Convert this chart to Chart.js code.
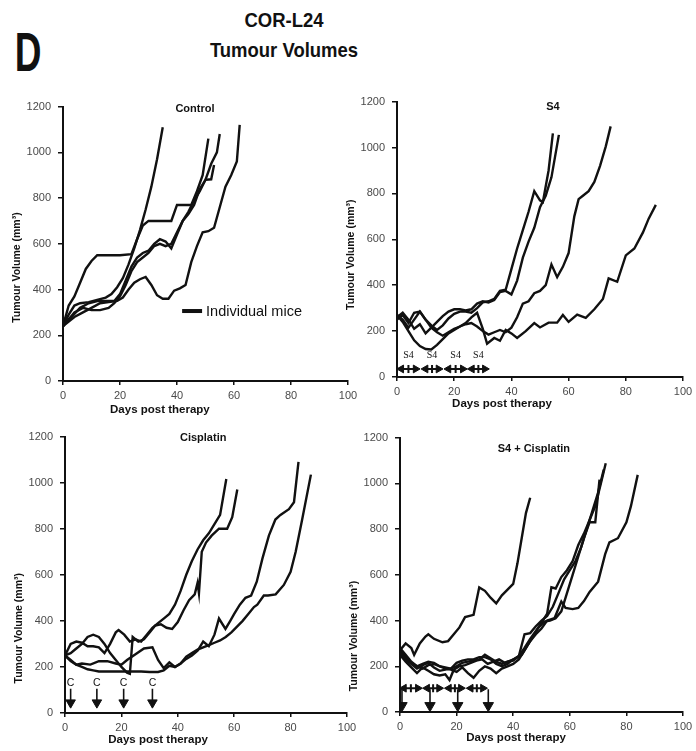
<!DOCTYPE html>
<html><head><meta charset="utf-8">
<script src="https://cdn.jsdelivr.net/npm/chart.js@4.4.1/dist/chart.umd.min.js"></script>
<style>
html,body{margin:0;padding:0;background:#fff;overflow:hidden;width:696px;height:751px;}
canvas{position:absolute;}
.t{position:absolute;font-family:"Liberation Sans",Arial,sans-serif;font-weight:bold;color:#111;white-space:nowrap;transform-origin:50% 50%;}
</style></head><body>
<div class="t" style="left:28px;top:24px;font-size:56px;line-height:56px;transform:translateX(-50%) scaleX(0.66);">D</div>
<div class="t" style="left:284px;top:9px;font-size:21px;line-height:22px;transform:translateX(-50%) scaleX(0.88);">COR-L24</div>
<div class="t" style="left:284px;top:39px;font-size:21px;line-height:22px;transform:translateX(-50%) scaleX(0.88);">Tumour Volumes</div>
<canvas id="c1" width="361" height="324" style="left:3px;top:93px"></canvas>
<canvas id="c2" width="362" height="325" style="left:337px;top:88px"></canvas>
<canvas id="c3" width="358" height="326" style="left:5px;top:423px"></canvas>
<canvas id="c4" width="359" height="324" style="left:340px;top:424px"></canvas>
<script>
// ---- tick labels ----
const xTickValues = [0, 20, 40, 60, 80, 100];
const yTickValues = [0, 200, 400, 600, 800, 1000, 1200];

// ---- Control: [day, volume mm3] ----
const control_m1 = [[0,240],[2,290],[4,330],[6,340],[9,345],[12,355],[15,365],[17,380],[19,410],[21,450],[23,510],[25,580],[27,660],[29,750],[31,850],[33,970],[35,1110]];
const control_m2 = [[0,240],[2,330],[4,370],[6,430],[8,490],[10,525],[12,550],[16,550],[20,550],[24,555],[26,620],[28,680],[30,700],[34,700],[38,700],[40,770],[45,770],[47,830],[49,900],[51,1060]];
const control_m3 = [[0,240],[3,280],[6,320],[9,340],[12,350],[15,350],[18,350],[20,380],[22,440],[24,500],[26,540],[28,560],[30,570],[32,600],[34,620],[36,610],[38,580],[40,640],[42,700],[44,730],[46,770],[48,840],[50,880],[52,950],[54,1000],[55,1080]];
const control_m4 = [[0,240],[2,270],[4,300],[7,320],[10,310],[13,310],[16,320],[18,340],[20,370],[22,420],[24,480],[26,520],[28,540],[30,560],[32,590],[34,600],[36,590],[38,600],[40,650],[42,700],[44,740],[46,790],[48,830],[50,880],[52,882],[53,945]];
const control_m5 = [[0,240],[2,260],[4,280],[7,300],[10,320],[13,340],[16,345],[19,350],[21,365],[23,400],[25,430],[27,445],[29,455],[31,420],[33,375],[35,360],[37,360],[39,395],[41,405],[43,420],[45,520],[47,590],[49,650],[51,655],[53,670],[55,760],[57,850],[59,900],[61,960],[62,1120]];

// ---- S4 ----
const s4_m1 = [[0,270],[2,250],[4,215],[6,250],[8,285],[10,250],[12,225],[14,205],[16,225],[18,255],[20,275],[22,285],[24,285],[26,280],[28,300],[30,325],[32,330],[34,340],[36,375],[38,380],[40,470],[42,560],[44,640],[46,720],[48,810],[50,770],[51,762],[53,900],[54.5,1062]];
const s4_m2 = [[0,260],[2,280],[4,250],[6,210],[8,230],[10,190],[12,215],[14,240],[16,265],[18,285],[20,295],[22,295],[24,290],[26,295],[28,320],[30,330],[32,325],[34,335],[36,370],[38,375],[40,360],[42,420],[44,520],[46,590],[48,650],[50,740],[52,790],[54,870],[56.6,1055]];
const s4_m3 = [[0,270],[2,240],[4,200],[6,160],[8,135],[10,122],[12,120],[14,140],[16,165],[18,190],[20,205],[22,220],[24,230],[26,235],[28,220],[30,200],[32,185],[34,195],[36,205],[38,195],[40,215],[42,260],[44,320],[46,330],[48,365],[50,375],[52,400],[54,490],[56,435],[58,480],[60,540],[62,700],[63.5,775],[65,790],[67,810],[69,850],[71,920],[73,1005],[74.7,1092]];
const s4_m4 = [[0,250],[2,270],[4,235],[6,280],[8,285],[10,250],[12,215],[14,195],[16,180],[18,195],[20,210],[22,220],[24,235],[26,260],[28,280],[30,210],[31.5,145],[34,170],[36,158],[38,205],[40,190],[42,170],[45,200],[48,235],[50,216],[53,237],[56,237],[58,270],[60,240],[63,272],[66,258],[69,295],[72,340],[74,430],[77,415],[80,530],[83,560],[86,630],[88,690],[90.5,750]];

// ---- Cisplatin ----
const cis_m1 = [[0,250],[2,300],[4,310],[6,305],[8,290],[10,290],[12,285],[14,260],[16,300],[18,350],[19,360],[21,340],[23,310],[25,320],[27,310],[29,340],[31,370],[33,390],[35,410],[37,430],[39,470],[41,530],[43,600],[45,660],[47,710],[49,750],[51,780],[53,820],[55,860],[57.2,1016]];
const cis_m2 = [[0,250],[2,260],[4,280],[6,300],[8,330],[10,340],[12,330],[14,300],[16,260],[18,230],[20,200],[22,175],[23,170],[24,330],[26,310],[28,320],[30,350],[32,380],[34,385],[36,370],[38,365],[40,395],[42,445],[44,490],[46,515],[47,565],[47.5,520],[48.5,700],[50,740],[52,770],[54.6,800],[57.5,800],[59.3,850],[61.1,970]];
const cis_m3 = [[0,250],[2,225],[4,210],[6,215],[9,210],[12,225],[15,225],[18,215],[20,210],[22,230],[25,255],[28,280],[31,285],[33,230],[35,195],[37,220],[39,200],[41,215],[43,235],[45,250],[47,270],[49,310],[51,290],[53,340],[54.6,410],[56.9,365],[58.6,400],[60,430],[62,470],[64,500],[66,510],[68,570],[70,670],[72.3,770],[74.6,840],[76.4,860],[79.4,885],[81.2,915],[82.8,1090]];
const cis_m4 = [[0,250],[2,230],[4,210],[6,200],[8,190],[10,185],[12,180],[15,180],[18,180],[21,180],[24,180],[27,180],[30,178],[33,178],[35,185],[37,205],[39,200],[41,215],[43,245],[45,260],[47,275],[49,285],[51,295],[53,305],[55,315],[57,330],[59,350],[61,375],[63,400],[65,430],[67,460],[68.2,470],[70.5,510],[72,510],[74.7,515],[77.6,556],[80,613],[81.8,700],[84.1,840],[87.2,1035]];

// ---- S4 + Cisplatin ----
const comb_m1 = [[0,270],[2,300],[4,280],[5,250],[7,300],[9,330],[10,340],[12,320],[15,305],[17,310],[19,340],[21,370],[23,415],[26,425],[28,545],[30,530],[32,500],[34,475],[36,510],[38,535],[40,560],[41.5,650],[43,760],[44.5,870],[46,937]];
const comb_m2 = [[0,260],[2,230],[4,210],[6,190],[8,205],[10,215],[12,195],[14,180],[16,185],[18,190],[20,200],[22,215],[24,220],[26,225],[28,230],[30,250],[32,235],[34,220],[36,210],[38,220],[40,225],[42,245],[44,280],[46,320],[48,355],[50,390],[52,430],[53.5,545],[55,540],[57,590],[59,620],[61,660],[63,730],[65,780],[67,840],[69,900],[71,1000],[72.7,1088]];
const comb_m3 = [[0,250],[2,220],[4,195],[6,170],[8,195],[10,180],[12,165],[14,160],[16,165],[17.5,140],[19,185],[21,200],[23,205],[25,215],[27,225],[29,230],[31,210],[33,220],[35,230],[37,215],[39,225],[41,235],[43,250],[45,290],[47,330],[49,370],[51,395],[53,400],[55,410],[57,440],[59,520],[61,600],[63,680],[65,760],[67,830],[69,830],[70.5,1016]];
const comb_m4 = [[0,280],[2,250],[4,220],[6,200],[8,190],[10,205],[12,210],[14,200],[16,195],[18,190],[20,215],[22,225],[24,230],[26,230],[28,240],[30,240],[32,230],[34,210],[36,200],[38,210],[40,230],[42,245],[44,340],[46,345],[48,375],[50,400],[52,420],[54,460],[56,520],[58,580],[60,620],[62,660],[64,720],[66,800],[68,880],[70,960],[72,1060]];
const comb_m5 = [[0,270],[2,240],[4,215],[6,200],[8,210],[10,220],[12,215],[14,200],[16,190],[18,185],[20,175],[22,195],[24,170],[26,150],[28,180],[30,200],[32,190],[34,170],[36,190],[38,200],[40,210],[42,230],[44,270],[46,310],[48,340],[50,365],[52,400],[54.6,410],[57,483],[58.5,455],[61,450],[63,455],[65,485],[67,525],[70,570],[72.5,690],[74,742],[77,760],[80,830],[81.6,900],[84,1037]];

// ---- dosing schedule annotations ----
const s4DoseRanges = [[1.5,6.5],[10,14.5],[18,23],[26.2,30.7]];
const s4DoseLevel = 35;
const s4LabelLevel = 95;
const cisDoseDays = [2, 11.3, 20.8, 31];
const cisArrowTop = 105, cisArrowEnd = 45, cisLabelLevel = 130;
const combS4Ranges = [[1.4,6.3],[9.6,13.8],[17.3,21.5],[25,29.3]];
const combS4Level = 104;
const combCisDays = [0.7, 10.6, 20.4, 31.2];
const combArrowTop = 100, combArrowEnd = 28;

const INK = '#111';
const FONT = '"Liberation Sans", Arial, sans-serif';

function seriesDs(s) {
  return { data: s.map(p => ({x: p[0], y: p[1]})), borderColor: INK, borderWidth: 2.4,
    pointRadius: 0, tension: 0, fill: false };
}
function doubleArrowDs(r, level) {
  const mid = (r[0] + r[1]) / 2;
  return { data: [{x: r[0], y: level}, {x: mid, y: level}, {x: r[1], y: level}],
    borderColor: INK, borderWidth: 2, backgroundColor: INK,
    pointStyle: ['triangle', 'line', 'triangle'], pointRotation: [-90, 90, 90],
    pointRadius: [4.5, 4, 4.5], pointBackgroundColor: INK, pointBorderColor: INK, pointBorderWidth: [1, 2, 1] };
}
function downArrowDs(d, top, end, r) {
  return { data: [{x: d, y: top}, {x: d, y: end}], borderColor: INK, borderWidth: 1.6,
    pointStyle: [false, 'triangle'], pointRotation: [0, 180], pointRadius: [0, r],
    pointBackgroundColor: INK, pointBorderColor: INK, pointBorderWidth: 1 };
}

const overlay = {
  id: 'overlay',
  afterDraw(chart) {
    const o = chart.options.plugins.overlay;
    if (!o) return;
    const {ctx, chartArea, scales: {x, y}} = chart;
    ctx.save();
    (o.texts || []).forEach(t => {
      ctx.font = t.font;
      ctx.fillStyle = t.color || INK;
      ctx.textAlign = t.align || 'center';
      ctx.textBaseline = 'middle';
      const px = t.px !== undefined ? chartArea.left + t.px : x.getPixelForValue(t.x);
      const py = t.py !== undefined ? chartArea.bottom + t.py : y.getPixelForValue(t.y);
      ctx.save(); ctx.translate(px, py); if (t.rot) ctx.rotate(t.rot); ctx.fillText(t.text, 0, 0); ctx.restore();
    });
    if (o.legend) {
      const l = o.legend;
      const x0 = x.getPixelForValue(l.x0), x1 = x.getPixelForValue(l.x1), py = y.getPixelForValue(l.y);
      ctx.fillStyle = INK;
      ctx.fillRect(x0, py - 2, x1 - x0, 4);
      ctx.font = '14.5px ' + FONT;
      ctx.textAlign = 'left'; ctx.textBaseline = 'middle';
      ctx.fillText(l.text, x1 + 4, py + 0.5);
    }
    ctx.restore();
  }
};

function makePanel(id, series, extraDs, cfg) {
  const datasets = series.map(seriesDs).concat(extraDs);
  const texts = [
    {text: cfg.title, x: cfg.titleAt[0], y: cfg.titleAt[1], font: 'bold 11px ' + FONT},
    {text: 'Days post therapy', x: cfg.xTitleDay, py: cfg.xTitleOff, font: 'bold 11.5px ' + FONT},
    {text: 'Tumour Volume (mm\u00B3)', px: -46, y: cfg.yTitleVal, font: 'bold 10.5px ' + FONT, rot: -Math.PI / 2}
  ].concat(cfg.texts || []);
  new Chart(document.getElementById(id), {
    type: 'line',
    data: {datasets},
    options: {
      responsive: false, maintainAspectRatio: false, animation: false,
      layout: {padding: {top: 10, right: 16, left: 0, bottom: 0}},
      plugins: {legend: {display: false}, tooltip: {enabled: false}, title: {display: false},
        overlay: {texts, legend: cfg.legend}},
      scales: {
        x: {type: 'linear', min: 0, max: 100,
          afterBuildTicks: ax => { ax.ticks = xTickValues.map(v => ({value: v})); },
          afterFit: ax => { ax.height = 36; },
          grid: {drawOnChartArea: false, drawTicks: true, tickLength: 4, color: INK, lineWidth: 1.5},
          border: {color: INK, width: 2},
          ticks: {color: '#4a4a4a', font: {family: FONT, size: 11}, padding: 4, maxRotation: 0, autoSkip: false,
            callback: v => String(v)}},
        y: {type: 'linear', min: 0, max: 1200,
          afterBuildTicks: ax => { ax.ticks = yTickValues.map(v => ({value: v})); },
          afterFit: ax => { ax.width = 60; },
          grid: {drawOnChartArea: false, drawTicks: true, tickLength: 5, color: INK, lineWidth: 1.5},
          border: {color: INK, width: 2},
          ticks: {color: '#4a4a4a', font: {family: FONT, size: 11}, padding: 7, autoSkip: false,
            callback: v => String(v)}}
      }
    },
    plugins: [overlay]
  });
}

makePanel('c1', [control_m1, control_m2, control_m3, control_m4, control_m5], [], {
  title: 'Control', titleAt: [46.3, 1191], xTitleDay: 34, xTitleOff: 29, yTitleVal: 496,
  legend: {x0: 41.8, x1: 48.8, y: 306, text: 'Individual mice'}
});

makePanel('c2', [s4_m1, s4_m2, s4_m3, s4_m4],
  s4DoseRanges.map(r => doubleArrowDs(r, s4DoseLevel)), {
  title: 'S4', titleAt: [54.5, 1178], xTitleDay: 36.7, xTitleOff: 27, yTitleVal: 533,
  texts: s4DoseRanges.map(r => ({text: 'S4', x: (r[0] + r[1]) / 2, y: s4LabelLevel, font: '10px "Liberation Serif", serif'}))
});

makePanel('c3', [cis_m1, cis_m2, cis_m3, cis_m4],
  cisDoseDays.map(d => downArrowDs(d, cisArrowTop, cisArrowEnd, 5.5)), {
  title: 'Cisplatin', titleAt: [49, 1192], xTitleDay: 33, xTitleOff: 27, yTitleVal: 368,
  texts: cisDoseDays.map(d => ({text: 'C', x: d, y: cisLabelLevel, font: '10.5px ' + FONT}))
});

makePanel('c4', [comb_m1, comb_m2, comb_m3, comb_m4, comb_m5],
  combS4Ranges.map(r => doubleArrowDs(r, combS4Level)).concat(combCisDays.map(d => downArrowDs(d, combArrowTop, combArrowEnd, 6))), {
  title: 'S4 + Cisplatin', titleAt: [47.3, 1152], xTitleDay: 41, xTitleOff: 26, yTitleVal: 332
});
</script>
</body></html>
